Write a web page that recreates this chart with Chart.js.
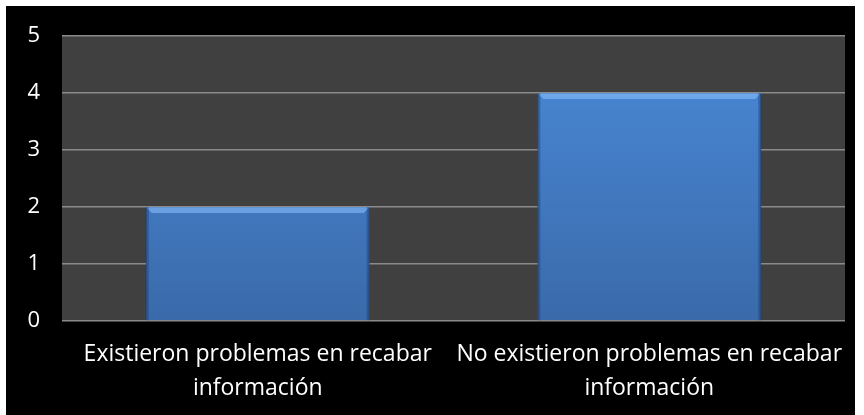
<!DOCTYPE html>
<html>
<head>
<meta charset="utf-8">
<script src="https://cdn.jsdelivr.net/npm/chart.js@4.4.1/dist/chart.umd.min.js"></script>
<style>
  html, body { margin: 0; padding: 0; background: #fff; }
  #wrap { position: absolute; left: 6px; top: 6px; width: 849px; height: 409px; background: #000; }
</style>
</head>
<body>
<div id="wrap"><canvas id="chart"></canvas></div>
<script>
const categories = [
  ['Existieron problemas en recabar', 'información'],
  ['No existieron problemas en recabar', 'información']
];
const values = [2, 4];
const yTicks = [0, 1, 2, 3, 4, 5];

// dark grey plot area behind the bars
const plotBg = {
  id: 'plotBg',
  beforeDraw(chart) {
    const { ctx, chartArea: a } = chart;
    ctx.save();
    ctx.fillStyle = '#404040';
    ctx.fillRect(a.left, a.top, a.right - a.left, a.bottom - a.top);
    ctx.restore();
  }
};

// light bevel along the top edge of each bar
const bevel = {
  id: 'bevel',
  afterDatasetsDraw(chart) {
    const { ctx } = chart;
    chart.getDatasetMeta(0).data.forEach(bar => {
      const l = bar.x - bar.width / 2, r = bar.x + bar.width / 2;
      ctx.save();
      ctx.fillStyle = 'rgba(140,195,255,0.55)';
      ctx.beginPath();
      ctx.moveTo(l, bar.y);
      ctx.lineTo(r, bar.y);
      ctx.lineTo(r - 6, bar.y + 6);
      ctx.lineTo(l + 6, bar.y + 6);
      ctx.closePath();
      ctx.fill();
      ctx.fillStyle = 'rgba(20,50,100,0.35)';
      ctx.fillRect(l, bar.y, 3, bar.base - bar.y);
      ctx.fillRect(r - 3, bar.y, 3, bar.base - bar.y);
      ctx.restore();
    });
  }
};

function barFill(context) {
  const { ctx, chartArea } = context.chart;
  if (!chartArea) return '#4a86d0';
  const g = ctx.createLinearGradient(0, chartArea.top, 0, chartArea.bottom);
  g.addColorStop(0, '#4a8ad8');
  g.addColorStop(1, '#3a6aaa');
  return g;
}

new Chart(document.getElementById('chart'), {
  type: 'bar',
  data: {
    labels: categories,
    datasets: [{
      data: values,
      backgroundColor: barFill,
      borderColor: '#2f5d96',
      borderWidth: 1,
      barPercentage: 0.572,
      categoryPercentage: 1
    }]
  },
  plugins: [plotBg, bevel],
  options: {
    responsive: true,
    maintainAspectRatio: false,
    animation: false,
    layout: { padding: { top: 30, right: 10, left: 0, bottom: 0 } },
    plugins: { legend: { display: false }, tooltip: { enabled: false } },
    scales: {
      x: {
        grid: { display: false, drawTicks: false },
        border: { display: false },
        ticks: {
          color: '#fff',
          font: { family: 'Open Sans', size: 23, lineHeight: 1.45 },
          padding: 17,
          maxRotation: 0,
          autoSkip: false
        },
        afterFit(scale) {
          scale.height = 94;
          scale.paddingLeft = 0;
          scale.paddingRight = 0;
        }
      },
      y: {
        min: 0,
        max: 5,
        afterBuildTicks(scale) { scale.ticks = yTicks.map(v => ({ value: v })); },
        grid: { color: '#8a8a8a', lineWidth: 1.5, drawTicks: false },
        border: { display: false },
        ticks: {
          color: '#fff',
          font: { family: 'Open Sans', size: 22 },
          padding: 22
        },
        afterFit(scale) {
          scale.width = 56;
          scale.paddingTop = 0;
          scale.paddingBottom = 0;
        }
      }
    }
  }
});
</script>
</body>
</html>
